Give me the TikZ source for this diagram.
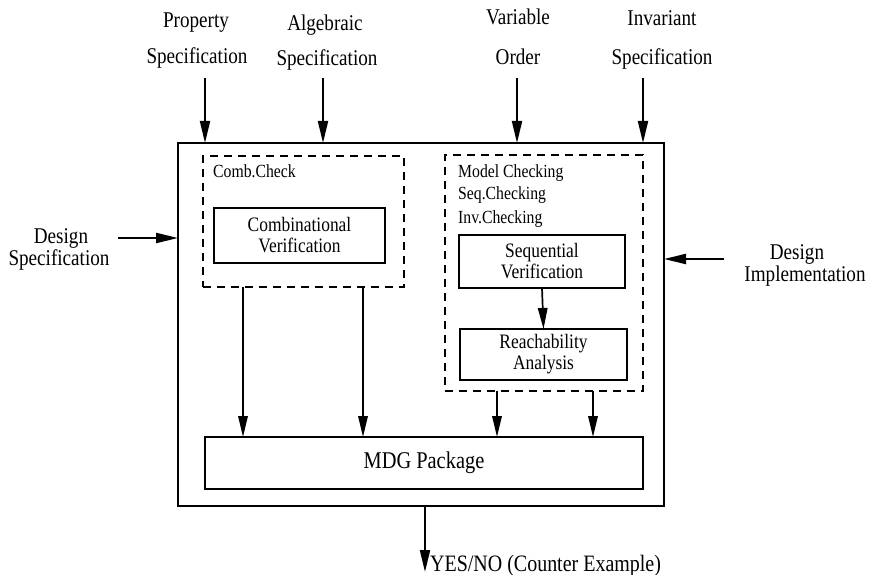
\documentclass[tikz,border=0pt]{standalone}
\usepackage{fontspec}
\setmainfont{Liberation Serif}[FakeStretch=0.85]
\usetikzlibrary{arrows.meta}

\tikzset{
  x=1pt, y=-1pt,
  arr/.style={line width=2pt, -{Triangle[length=22pt,width=10pt]}},
  sarr/.style={line width=1.7pt, -{Triangle[length=21pt,width=9.5pt]}},
  frame/.style={draw, line width=1.8pt, inner sep=0pt, outer sep=0pt},
  grp/.style={draw, line width=1.5pt, dash pattern=on 8pt off 6pt, inner sep=0pt, outer sep=0pt},
  blk/.style={draw, line width=1.5pt, inner sep=0pt, outer sep=0pt, align=center,
              font=\fontsize{20.5}{21}\selectfont},
  lbl/.style={inner sep=0pt, font=\fontsize{22.5}{26}\selectfont},
  tag/.style={inner sep=0pt, anchor=base west, font=\fontsize{18.5}{22}\selectfont},
}

\begin{document}
\begin{tikzpicture}
\useasboundingbox (0,0) rectangle (870,575);

% main frame and inner groups
\node[frame, minimum width=486pt, minimum height=363pt] (frame) at (421,324.5) {};
\node[grp, minimum width=201pt, minimum height=131pt] (combgrp) at (303.5,221.5) {};
\node[grp, minimum width=198pt, minimum height=236pt] (seqgrp) at (544,273) {};

% blocks
\node[blk, minimum width=171pt, minimum height=55pt] (combv) at (299.5,235.5) {Combinational\\Verification};
\node[blk, minimum width=166pt, minimum height=53pt] (seqv) at (542,261.5) {Sequential\\Verification};
\node[blk, minimum width=167pt, minimum height=51pt] (reach) at (543.5,354.5) {Reachability\\Analysis};
\node[blk, minimum width=438pt, minimum height=52pt, font=\fontsize{24}{26}\selectfont] (mdg) at (424,463) {MDG Package};

% group captions
\node[tag] (combtag) at (213,177) {Comb.Check};
\node[tag] (mctag) at (458,177) {Model Checking};
\node[tag] (sctag) at (458,199) {Seq.Checking};
\node[tag] (ictag) at (458,223) {Inv.Checking};

% input labels along the top
\node[lbl, anchor=base] (prop1) at (196,28) {Property};
\node[lbl, anchor=base] (prop2) at (197,64) {Specification};
\node[lbl, anchor=base] (alg1) at (325,31) {Algebraic};
\node[lbl, anchor=base] (alg2) at (327,66) {Specification};
\node[lbl, anchor=base] (var1) at (518,25) {Variable};
\node[lbl, anchor=base] (var2) at (518,65) {Order};
\node[lbl, anchor=base] (inv1) at (662,26) {Invariant};
\node[lbl, anchor=base] (inv2) at (662,65) {Specification};

% side labels
\node[lbl, anchor=base] (ds1) at (61,243) {Design};
\node[lbl, anchor=base] (ds2) at (59,265) {Specification};
\node[lbl, anchor=base] (di1) at (797,259) {Design};
\node[lbl, anchor=base] (di2) at (805,281) {Implementation};

% output label
\node[lbl, anchor=base west, font=\fontsize{23.5}{26}\selectfont] (result) at (430,571) {YES/NO (Counter Example)};

% arrow anchors
\coordinate (pin) at (205,78);
\coordinate (ain) at (323,78);
\coordinate (vin) at (517,78);
\coordinate (iin) at (643,78);
\coordinate (dsin) at (118,238);
\coordinate (diin) at (724,259);
\coordinate (outp) at (425,572);
\coordinate (c1) at (243,0);
\coordinate (c2) at (363,0);
\coordinate (s1) at (497,0);
\coordinate (s2) at (593,0);

% inputs
\draw[arr] (pin) -- (pin |- frame.north);
\draw[arr] (ain) -- (ain |- frame.north);
\draw[arr] (vin) -- (vin |- frame.north);
\draw[arr] (iin) -- (iin |- frame.north);
\draw[arr, line width=2.4pt] (dsin) -- (dsin -| frame.west);
\draw[arr, line width=2.4pt] (diin) -- (diin -| frame.east);

% internal flow
\draw[sarr] (combgrp.south -| c1) -- (mdg.north -| c1);
\draw[sarr] (combgrp.south -| c2) -- (mdg.north -| c2);
\draw[sarr] (seqgrp.south -| s1) -- (mdg.north -| s1);
\draw[sarr] (seqgrp.south -| s2) -- (mdg.north -| s2);
\draw[sarr] (seqv.south) -- (reach.north);

% output
\draw[arr] (frame.south -| outp) -- (outp);
\end{tikzpicture}
\end{document}
